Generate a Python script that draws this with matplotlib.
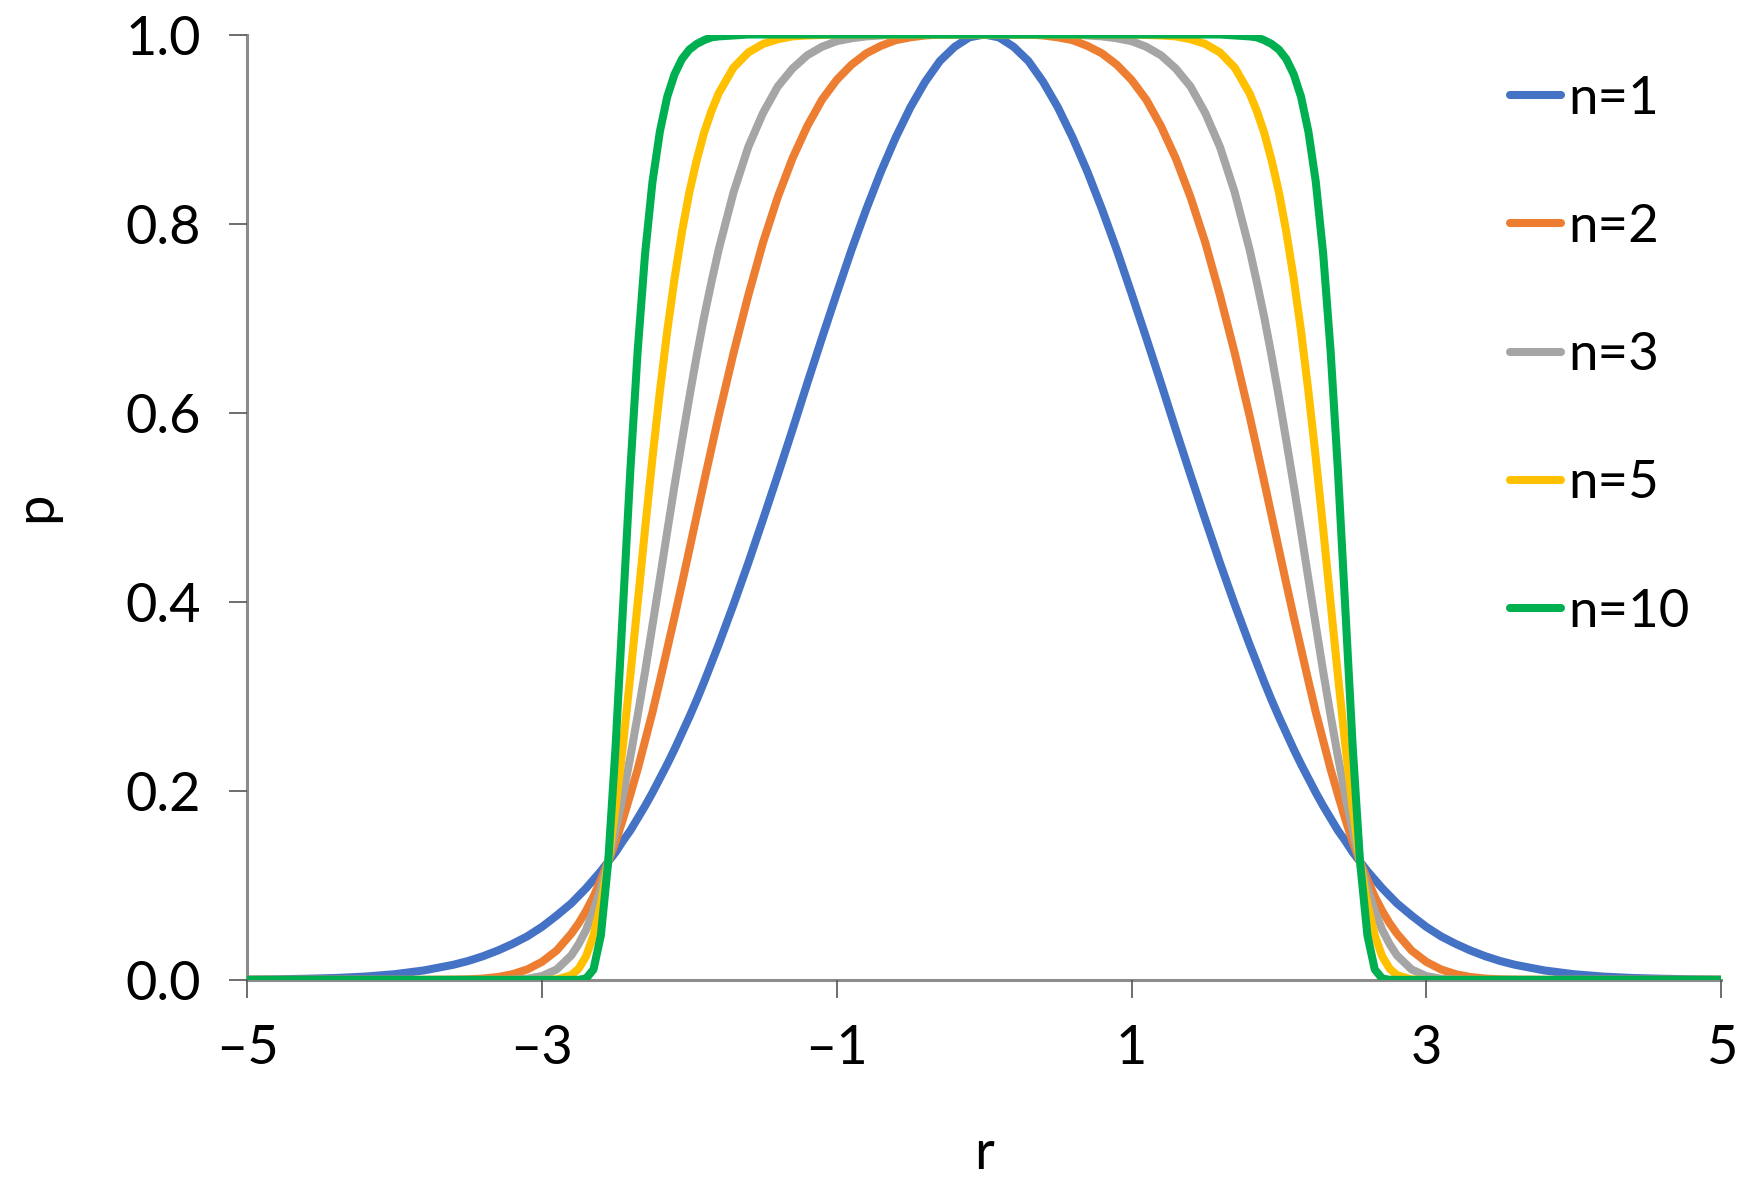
import numpy as np
from matplotlib import pyplot as plt

plt.rcParams['font.family'] = ['Lato', 'DejaVu Sans']

# значения r (правая половина, кривые симметричны относительно r = 0)
r = [0.0, 0.1, 0.2, 0.3, 0.4, 0.5, 0.6, 0.7, 0.8, 0.9,
     1.0, 1.1, 1.2, 1.3, 1.4, 1.5, 1.6, 1.7, 1.8, 1.85,
     1.9, 1.95, 2.0, 2.05, 2.1, 2.15, 2.2, 2.25, 2.3, 2.35,
     2.4, 2.45, 2.5, 2.55, 2.6, 2.65, 2.7, 2.75, 2.8, 2.9,
     3.0, 3.1, 3.2, 3.3, 3.4, 3.5, 3.6, 3.8, 4.0, 4.2,
     4.4, 4.6, 4.8, 5.0]

p_n1 = [1.000, 0.997, 0.987, 0.972, 0.950, 0.923, 0.891, 0.855, 0.815, 0.772,
        0.726, 0.679, 0.631, 0.582, 0.534, 0.487, 0.441, 0.397, 0.355, 0.335,
        0.315, 0.296, 0.278, 0.261, 0.244, 0.228, 0.213, 0.198, 0.184, 0.171,
        0.158, 0.147, 0.135, 0.125, 0.115, 0.106, 0.097, 0.089, 0.081, 0.068,
        0.056, 0.046, 0.038, 0.031, 0.025, 0.020, 0.016, 0.010, 0.006, 0.0035,
        0.002, 0.0012, 0.0006, 0.0003]

p_n2 = [1.000, 1.000, 1.000, 1.000, 0.999, 0.997, 0.994, 0.988, 0.980, 0.968,
        0.952, 0.931, 0.903, 0.869, 0.828, 0.780, 0.724, 0.663, 0.597, 0.562,
        0.527, 0.491, 0.455, 0.419, 0.384, 0.350, 0.316, 0.283, 0.253, 0.223,
        0.196, 0.170, 0.146, 0.125, 0.106, 0.088, 0.073, 0.060, 0.049, 0.031,
        0.019, 0.011, 0.006, 0.003, 0.0014, 0.0006, 0.0003, 0.0, 0.0, 0.0,
        0.0, 0.0, 0.0, 0.0]

p_n3 = [1.000, 1.000, 1.000, 1.000, 1.000, 1.000, 1.000, 0.999, 0.998, 0.996,
        0.993, 0.987, 0.978, 0.964, 0.945, 0.917, 0.881, 0.833, 0.773, 0.738,
        0.701, 0.660, 0.616, 0.570, 0.523, 0.474, 0.424, 0.375, 0.326, 0.280,
        0.236, 0.195, 0.158, 0.125, 0.097, 0.073, 0.053, 0.038, 0.026, 0.011,
        0.004, 0.0012, 0.0003, 0.0, 0.0, 0.0, 0.0, 0.0, 0.0, 0.0,
        0.0, 0.0, 0.0, 0.0]

p_n5 = [1.000, 1.000, 1.000, 1.000, 1.000, 1.000, 1.000, 1.000, 1.000, 1.000,
        1.000, 0.9995, 0.999, 0.998, 0.995, 0.990, 0.981, 0.965, 0.938, 0.919,
        0.896, 0.867, 0.833, 0.791, 0.742, 0.686, 0.622, 0.552, 0.477, 0.399,
        0.322, 0.248, 0.182, 0.125, 0.080, 0.047, 0.025, 0.012, 0.005, 0.0005,
        0.0, 0.0, 0.0, 0.0, 0.0, 0.0, 0.0, 0.0, 0.0, 0.0,
        0.0, 0.0, 0.0, 0.0]

p_n10 = [1.000, 1.000, 1.000, 1.000, 1.000, 1.000, 1.000, 1.000, 1.000, 1.000,
         1.000, 1.000, 1.000, 1.000, 1.000, 1.000, 1.000, 0.999, 0.998, 0.997,
         0.994, 0.990, 0.984, 0.974, 0.958, 0.934, 0.897, 0.844, 0.768, 0.666,
         0.539, 0.393, 0.247, 0.125, 0.047, 0.011, 0.0015, 0.0001, 0.0, 0.0,
         0.0, 0.0, 0.0, 0.0, 0.0, 0.0, 0.0, 0.0, 0.0, 0.0,
         0.0, 0.0, 0.0, 0.0]

labels = ['n=1', 'n=2', 'n=3', 'n=5', 'n=10']
colors = ['#4472C4', '#ED7D31', '#A5A5A5', '#FFC000', '#00B050']
series = [p_n1, p_n2, p_n3, p_n5, p_n10]

xticks = [-5, -3, -1, 1, 3, 5]
yticks = [0.0, 0.2, 0.4, 0.6, 0.8, 1.0]


def mirror(a, sign):
    # достраиваем левую половину по симметрии
    a = np.array(a, dtype=float)
    return np.concatenate([sign * a[:0:-1], a])


fig = plt.figure(figsize=(17.46, 11.82), dpi=100)
ax = fig.add_axes([0.1415, 0.171, 0.8443, 0.7998])

rr = mirror(r, -1)
for p, c, lab in zip(series, colors, labels):
    ax.plot(rr, mirror(p, 1), color=c, lw=5.8, label=lab,
            solid_capstyle='round', solid_joinstyle='round')

ax.set_xlim(-5, 5)
ax.set_ylim(0, 1)
ax.set_xticks(xticks)
ax.set_yticks(yticks)
ax.set_xticklabels([str(v).replace('-', '\u2013') for v in xticks])
ax.set_yticklabels(['%.1f' % v for v in yticks])

for s in ['top', 'right']:
    ax.spines[s].set_visible(False)
for s in ['left', 'bottom']:
    ax.spines[s].set_color('#8C8C8C')
    ax.spines[s].set_linewidth(2.2)
    ax.spines[s].set_zorder(0)

ax.tick_params(axis='both', direction='out', length=13, width=1.2,
               color='#555555', labelsize=39, labelcolor='black')
ax.tick_params(axis='y', pad=20)
ax.tick_params(axis='x', pad=19)

ax.set_xlabel('r', fontsize=39, labelpad=40)
ax.set_ylabel('p', fontsize=39)
ax.yaxis.set_label_coords(-0.127, 0.5)

ax.legend(loc='upper left', bbox_to_anchor=(0.865, 0.936),
          bbox_transform=fig.transFigure, frameon=False, fontsize=38,
          handlelength=0.97, handletextpad=0.12, labelspacing=1.54,
          borderpad=0, borderaxespad=0)

plt.savefig('out.png', dpi=100)
